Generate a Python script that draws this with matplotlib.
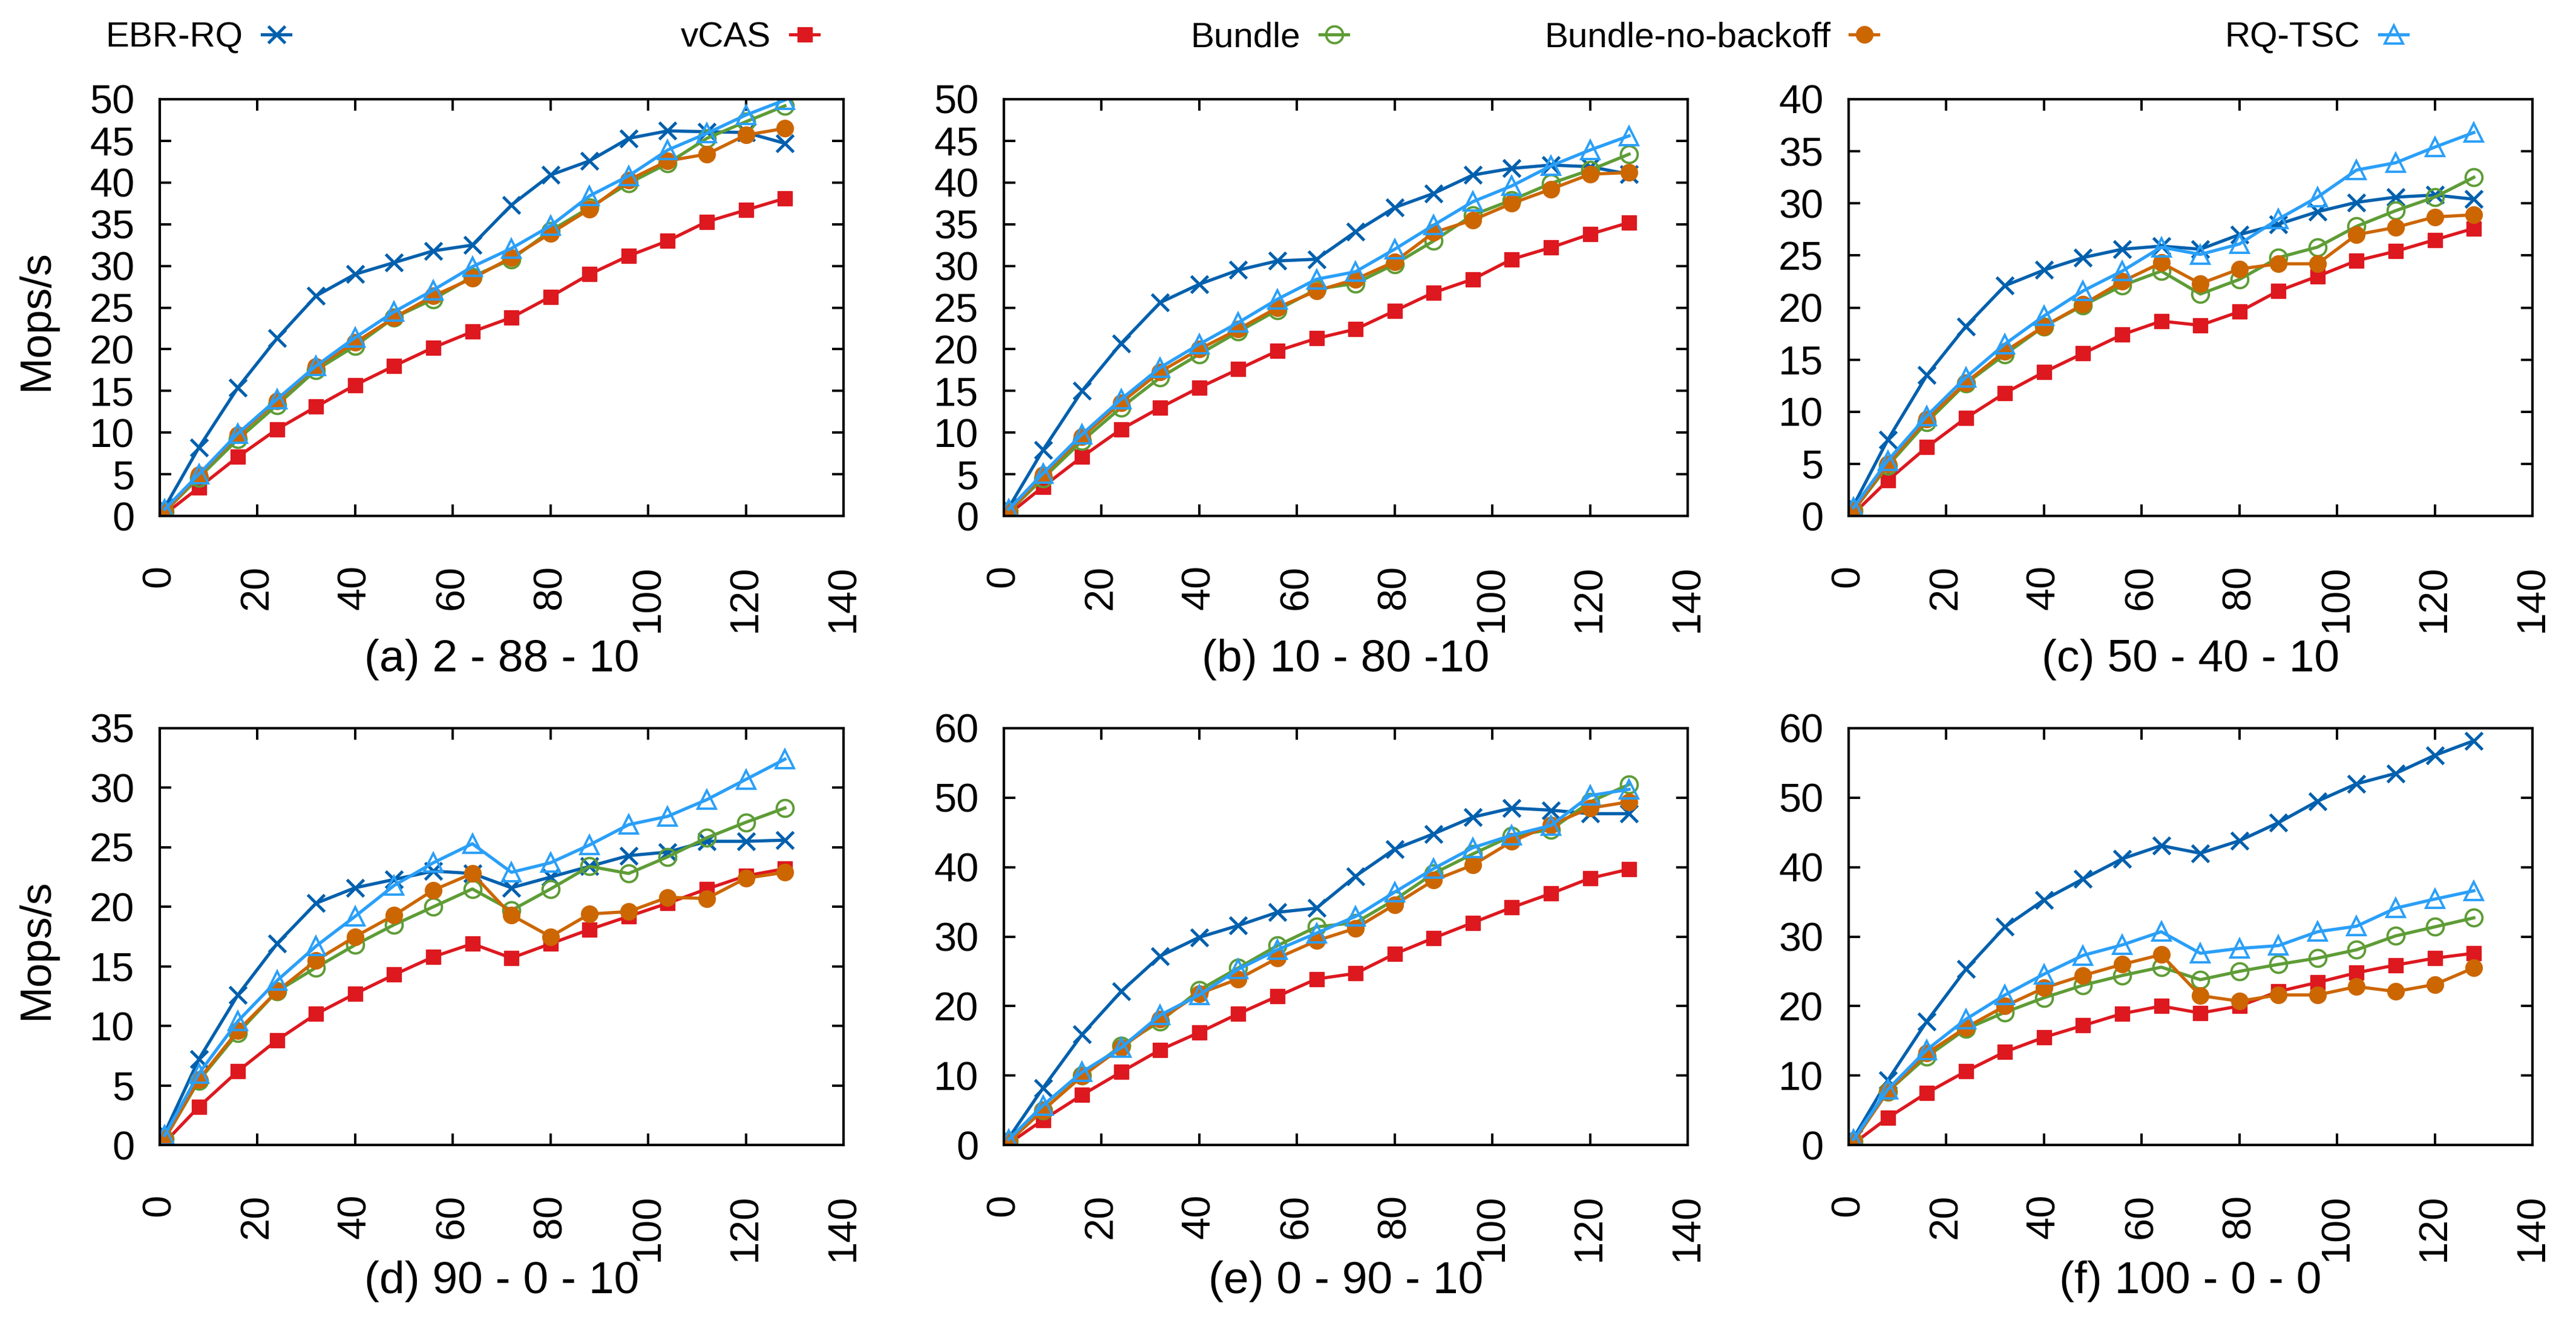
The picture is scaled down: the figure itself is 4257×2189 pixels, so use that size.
import matplotlib
matplotlib.use('Agg')
import matplotlib.pyplot as plt
from matplotlib.lines import Line2D

plt.rcParams['font.family'] = ['Liberation Sans', 'DejaVu Sans']

# ── datos ────────────────────────────────────────────────────────────────
threads = [1, 8, 16, 24, 32, 40, 48, 56, 64, 72, 80, 88, 96, 104, 112, 120, 128]

series_names = ['EBR-RQ', 'vCAS', 'Bundle', 'Bundle-no-backoff', 'RQ-TSC']

captions = ['(a) 2 - 88 - 10', '(b) 10 - 80 -10', '(c) 50 - 40 - 10',
            '(d) 90 - 0 - 10', '(e) 0 - 90 - 10', '(f) 100 - 0 - 0']
y_max  = [50, 50, 40, 35, 60, 60]
y_step = [5, 5, 5, 5, 10, 10]

# (a) 2 - 88 - 10
a_ebr  = [1.0, 8.2, 15.4, 21.3, 26.4, 29.0, 30.4, 31.8, 32.5, 37.3, 40.9, 42.6, 45.3, 46.2, 46.1, 46.0, 44.7]
a_vcas = [0.2, 3.4, 7.1, 10.4, 13.1, 15.7, 18.0, 20.2, 22.1, 23.8, 26.3, 29.0, 31.2, 33.0, 35.3, 36.7, 38.1]
a_bun  = [0.5, 4.6, 9.2, 13.3, 17.5, 20.4, 23.8, 26.0, 28.7, 30.8, 34.2, 37.0, 39.9, 42.3, 45.3, 47.3, 49.2]
a_bnb  = [0.5, 4.9, 9.7, 13.8, 17.9, 20.8, 23.8, 26.4, 28.5, 31.0, 33.9, 36.8, 40.3, 42.6, 43.4, 45.7, 46.5]
a_tsc  = [0.8, 5.0, 9.9, 14.0, 18.0, 21.4, 24.5, 27.1, 29.9, 32.1, 34.8, 38.4, 40.8, 43.9, 45.9, 48.1, 49.9]

# (b) 10 - 80 - 10
b_ebr  = [1.0, 7.9, 15.0, 20.7, 25.6, 27.8, 29.5, 30.6, 30.8, 34.1, 37.0, 38.7, 40.9, 41.7, 42.1, 41.9, 41.0]
b_vcas = [0.2, 3.5, 7.1, 10.4, 13.0, 15.4, 17.6, 19.8, 21.3, 22.4, 24.6, 26.8, 28.4, 30.8, 32.2, 33.8, 35.2]
b_bun  = [0.5, 4.5, 9.0, 13.0, 16.6, 19.4, 22.1, 24.7, 27.2, 27.9, 30.2, 33.0, 36.1, 37.9, 39.9, 41.5, 43.4]
b_bnb  = [0.5, 4.9, 9.5, 13.6, 17.3, 20.0, 22.4, 25.0, 27.0, 28.4, 30.5, 34.0, 35.5, 37.5, 39.2, 41.0, 41.2]
b_tsc  = [0.8, 5.1, 9.8, 14.0, 17.8, 20.6, 23.2, 26.0, 28.4, 29.3, 32.0, 34.9, 37.7, 39.6, 42.0, 43.9, 45.6]

# (c) 50 - 40 - 10
c_ebr  = [1.0, 7.3, 13.5, 18.2, 22.1, 23.6, 24.8, 25.6, 25.9, 25.6, 27.0, 28.0, 29.2, 30.1, 30.6, 30.8, 30.4]
c_vcas = [0.2, 3.4, 6.6, 9.4, 11.8, 13.8, 15.6, 17.4, 18.7, 18.3, 19.6, 21.6, 23.0, 24.5, 25.4, 26.5, 27.6]
c_bun  = [0.5, 4.8, 9.0, 12.7, 15.5, 18.2, 20.2, 22.1, 23.5, 21.3, 22.7, 24.8, 25.8, 27.8, 29.3, 30.6, 32.5]
c_bnb  = [0.5, 5.0, 9.3, 12.8, 15.8, 18.2, 20.3, 22.5, 24.3, 22.3, 23.7, 24.2, 24.2, 27.0, 27.7, 28.7, 28.9]
c_tsc  = [0.8, 5.3, 9.6, 13.3, 16.5, 19.2, 21.6, 23.5, 25.8, 25.1, 26.1, 28.5, 30.6, 33.2, 33.9, 35.4, 36.8]

# (d) 90 - 0 - 10
d_ebr  = [1.0, 7.2, 12.6, 16.9, 20.3, 21.6, 22.3, 23.0, 22.8, 21.6, 22.5, 23.4, 24.3, 24.6, 25.5, 25.5, 25.6]
d_vcas = [0.2, 3.2, 6.2, 8.8, 11.0, 12.7, 14.3, 15.8, 16.9, 15.7, 16.9, 18.1, 19.2, 20.3, 21.5, 22.6, 23.2]
d_bun  = [0.5, 5.4, 9.4, 12.9, 14.9, 16.8, 18.5, 20.0, 21.5, 19.7, 21.5, 23.4, 22.8, 24.2, 25.8, 27.1, 28.3]
d_bnb  = [0.5, 5.5, 9.6, 12.9, 15.5, 17.5, 19.3, 21.4, 22.8, 19.3, 17.5, 19.4, 19.6, 20.8, 20.7, 22.4, 22.9]
d_tsc  = [0.8, 6.0, 10.4, 13.8, 16.7, 19.2, 21.8, 23.7, 25.3, 22.9, 23.7, 25.2, 26.9, 27.6, 29.0, 30.7, 32.4]

# (e) 0 - 90 - 10
e_ebr  = [1.0, 8.2, 15.9, 22.1, 27.2, 29.9, 31.6, 33.5, 34.1, 38.7, 42.6, 44.8, 47.2, 48.5, 48.2, 47.7, 47.7]
e_vcas = [0.2, 3.6, 7.2, 10.5, 13.7, 16.2, 18.9, 21.4, 23.9, 24.7, 27.5, 29.8, 32.0, 34.2, 36.2, 38.4, 39.7]
e_bun  = [0.5, 5.0, 10.0, 14.3, 17.8, 22.3, 25.5, 28.7, 31.4, 32.0, 35.3, 39.1, 41.9, 44.5, 45.4, 49.4, 51.9]
e_bnb  = [0.5, 5.0, 9.9, 14.0, 18.1, 21.8, 23.9, 26.9, 29.4, 31.2, 34.6, 38.1, 40.3, 43.7, 46.1, 48.5, 49.4]
e_tsc  = [0.8, 5.7, 10.5, 14.0, 18.7, 21.6, 25.3, 28.1, 30.5, 32.9, 36.4, 39.8, 42.8, 44.6, 46.0, 50.3, 51.2]

# (f) 100 - 0 - 0
f_ebr  = [1.0, 9.3, 17.8, 25.3, 31.4, 35.3, 38.3, 41.2, 43.1, 42.0, 43.8, 46.4, 49.5, 52.0, 53.5, 56.1, 58.2]
f_vcas = [0.2, 3.9, 7.5, 10.6, 13.4, 15.5, 17.2, 18.9, 20.0, 19.0, 20.0, 22.1, 23.4, 24.8, 25.9, 26.9, 27.6]
f_bun  = [0.5, 7.7, 12.7, 16.7, 19.1, 21.2, 23.0, 24.4, 25.6, 23.8, 25.0, 26.0, 26.9, 28.1, 30.1, 31.4, 32.7]
f_bnb  = [0.5, 7.7, 13.2, 16.9, 20.0, 22.6, 24.4, 26.0, 27.4, 21.5, 20.7, 21.6, 21.6, 22.8, 22.1, 23.1, 25.5]
f_tsc  = [0.8, 8.0, 13.7, 18.1, 21.6, 24.6, 27.3, 28.8, 30.7, 27.6, 28.3, 28.7, 30.7, 31.5, 34.1, 35.4, 36.6]

panels = [
    [a_ebr, a_vcas, a_bun, a_bnb, a_tsc],
    [b_ebr, b_vcas, b_bun, b_bnb, b_tsc],
    [c_ebr, c_vcas, c_bun, c_bnb, c_tsc],
    [d_ebr, d_vcas, d_bun, d_bnb, d_tsc],
    [e_ebr, e_vcas, e_bun, e_bnb, e_tsc],
    [f_ebr, f_vcas, f_bun, f_bnb, f_tsc],
]

# ── estilos (gnuplot-like) ───────────────────────────────────────────────
styles = [
    dict(color='#0060ad', marker='x', ms=20, mew=3.6, mfc='none'),
    dict(color='#dd181f', marker='s', ms=17, mew=1.0, mfc='#dd181f'),
    dict(color='#5e9c36', marker='o', ms=20, mew=2.8, mfc='none'),
    dict(color='#cc6600', marker='o', ms=20, mew=1.0, mfc='#cc6600'),
    dict(color='#2a9ff8', marker='^', ms=21, mew=2.8, mfc='none'),
]
LW = 3.8

W, H = 4257, 2189
fig = plt.figure(figsize=(W / 100, H / 100), dpi=100)

lefts   = [264, 1659, 3055]
tops    = [164, 1204]
ax_w, ax_h = 1130, 689

for i, series in enumerate(panels):
    r, c = divmod(i, 3)
    ax = fig.add_axes([lefts[c] / W, 1 - (tops[r] + ax_h) / H, ax_w / W, ax_h / H])
    for name, ys, st in zip(series_names, series, styles):
        ax.plot(threads, ys, color=st['color'], lw=LW, marker=st['marker'],
                ms=st['ms'], mew=st['mew'], mfc=st['mfc'], mec=st['color'],
                label=name)
    ax.set_xlim(0, 140)
    ax.set_ylim(0, y_max[i])
    ax.set_xticks(range(0, 141, 20))
    ax.set_yticks(range(0, y_max[i] + 1, y_step[i]))
    ax.tick_params(direction='in', top=True, right=True, length=14, width=2.8)
    ax.tick_params(axis='x', labelsize=48, pad=58, labelrotation=90)
    ax.tick_params(axis='y', labelsize=48, pad=30)
    for sp in ax.spines.values():
        sp.set_linewidth(3.0)
    if c == 0:
        ax.set_ylabel('Mops/s', fontsize=52)
        ax.yaxis.set_label_coords(-0.150, 0.47)
    ax.text(0.5, -0.344 if r == 0 else -0.327, captions[i], transform=ax.transAxes,
            ha='center', va='center', fontsize=54)

# ── leyenda superior ─────────────────────────────────────────────────────
handle_right = [480, 1353, 2228, 3104, 3979]
for name, st, xr in zip(series_names, styles, handle_right):
    h = Line2D([], [], color=st['color'], lw=LW, marker=st['marker'], ms=st['ms'],
               mew=st['mew'], mfc=st['mfc'], mec=st['color'])
    fig.legend([h], [name], loc='center right', bbox_to_anchor=(xr / W, 1 - 62 / H),
               frameon=False, markerfirst=False, handlelength=0.8,
               handletextpad=0.55, borderpad=0, borderaxespad=0, fontsize=42)

fig.savefig('out.png', dpi=100)
